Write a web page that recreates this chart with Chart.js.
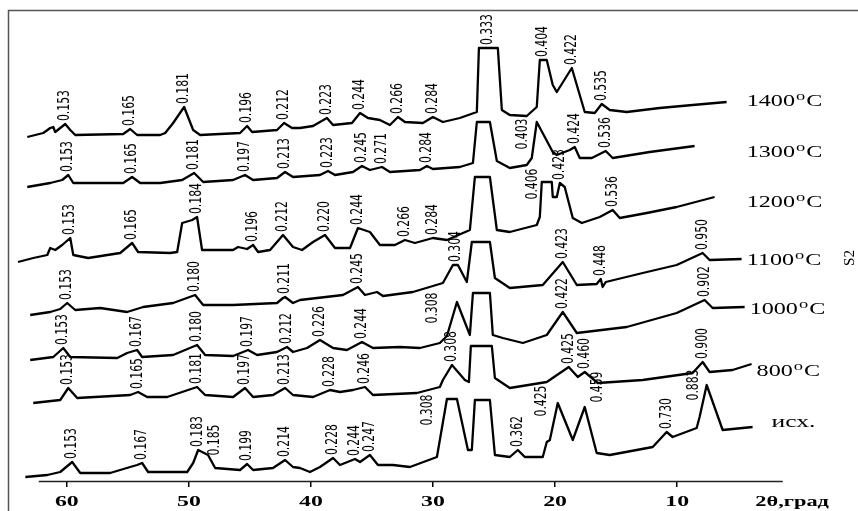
<!DOCTYPE html>
<html>
<head>
<meta charset="utf-8">
<script src="https://cdn.jsdelivr.net/npm/chart.js@4.4.1/dist/chart.umd.min.js"></script>
<style>
  html, body { margin: 0; padding: 0; background: #fff; }
  #xrd { display: block; }
</style>
</head>
<body>
<canvas id="xrd" width="858" height="511"></canvas>
<script>
// XRD patterns of the sample after firing at different temperatures.
// t*: 2θ (deg), i*: intensity above the trace baseline (arb. units)
// p*: 2θ of labelled reflections, d*: interplanar spacing labels (nm)

const t1400 = [63.24, 61.93, 61.36, 61.11, 60.95, 60.13, 59.72, 59.31, 55.38, 54.81, 54.24, 52.35, 51.94, 51.29, 50.39, 49.65, 49.08, 45.81, 45.23, 44.82, 42.78, 42.20, 41.55, 40.90, 39.83, 38.69, 38.19, 36.64, 35.98, 35.33, 34.35, 33.53, 32.87, 32.30, 30.83, 30.01, 29.19, 27.80, 26.41, 26.24, 24.69, 24.36, 23.71, 22.32, 21.50, 21.25, 20.68, 20.19, 19.86, 18.63, 17.57, 16.75, 16.18, 15.52, 14.13, 11.43, 8.73, 5.95];
const i1400 = [-2, 2, 7, 8, 3, 11, 5, 0, 1, 6, 0, 0, 2, 12, 28, 5, 0, 2, 9, 3, 5, 12, 7, 7, 9, 17, 10, 12, 22, 17, 15, 10, 18, 13, 12, 18, 13, 17, 23, 87, 87, 25, 20, 19, 28, 75, 75, 50, 43, 67, 23, 22, 31, 25, 23, 27, 30, 33];
const p1400 = [60.13, 54.81, 50.39, 45.23, 42.20, 38.69, 35.98, 32.87, 30.01, 25.47, 20.97, 18.63, 16.18];
const d1400 = ['0.153', '0.165', '0.181', '0.196', '0.212', '0.223', '0.244', '0.266', '0.284', '0.333', '0.404', '0.422', '0.535'];

const t1300 = [63.24, 61.36, 60.38, 59.88, 59.47, 55.38, 54.65, 53.99, 52.35, 50.55, 49.57, 48.83, 46.38, 45.40, 44.74, 42.78, 42.12, 41.47, 39.26, 38.60, 38.03, 36.56, 35.82, 35.17, 34.18, 33.53, 31.07, 30.50, 30.01, 27.80, 26.73, 26.41, 25.34, 24.77, 23.71, 22.32, 21.91, 21.50, 20.19, 19.86, 18.80, 18.39, 17.98, 16.99, 15.85, 15.28, 12.25, 8.57];
const i1300 = [-2, 2, 5, 10, 2, 2, 8, 2, 2, 5, 12, 3, 5, 10, 5, 7, 13, 8, 10, 14, 10, 13, 19, 15, 18, 13, 15, 19, 16, 18, 22, 63, 63, 24, 17, 20, 27, 63, 33, 30, 35, 38, 27, 27, 34, 27, 33, 39];
const p1300 = [59.88, 54.65, 49.57, 45.40, 42.12, 38.60, 35.82, 34.18, 30.50, 21.50, 18.39, 15.85];
const d1300 = ['0.153', '0.165', '0.181', '0.197', '0.213', '0.223', '0.245', '0.271', '0.284', '0.403', '0.424', '0.536'];

const t1200 = [64.00, 62.75, 61.60, 61.36, 60.95, 60.38, 59.72, 59.47, 58.25, 55.63, 54.65, 54.16, 51.54, 50.96, 50.55, 49.73, 49.33, 48.92, 46.38, 45.97, 45.23, 44.74, 44.33, 43.35, 42.29, 41.47, 40.73, 39.83, 38.85, 38.03, 36.80, 36.15, 35.17, 34.35, 33.12, 32.30, 31.48, 30.01, 28.86, 26.98, 26.57, 25.34, 24.77, 23.71, 21.50, 21.25, 21.09, 20.27, 20.19, 19.86, 19.61, 19.21, 18.55, 17.81, 16.34, 15.28, 14.70, 12.49, 10.04, 6.93];
const i1200 = [-7, -3, 0, 7, 5, 10, 17, 0, -3, 2, 12, 3, 2, 3, 32, 35, 38, 5, 5, 8, 6, 10, 3, 5, 20, 8, 5, 13, 20, 7, 7, 27, 23, 10, 10, 15, 12, 17, 15, 25, 78, 78, 25, 23, 30, 38, 73, 73, 58, 58, 72, 68, 37, 32, 38, 45, 37, 42, 48, 58];
const p1200 = [59.72, 54.65, 49.33, 44.74, 42.29, 38.85, 36.15, 32.30, 30.01, 20.68, 19.61, 15.28];
const d1200 = ['0.153', '0.165', '0.184', '0.196', '0.212', '0.220', '0.244', '0.266', '0.284', '0.406', '0.423', '0.536'];

const t1100 = [63.00, 61.36, 60.54, 59.97, 59.31, 57.27, 55.06, 53.75, 51.29, 49.49, 48.83, 46.38, 42.78, 42.29, 42.12, 41.47, 40.90, 37.38, 36.15, 35.57, 34.59, 34.10, 31.65, 29.19, 28.37, 27.96, 27.23, 26.82, 25.34, 24.93, 23.71, 21.01, 19.37, 18.22, 16.59, 16.26, 16.10, 15.85, 12.82, 10.04, 7.91, 7.34, 4.72];
const i1100 = [-3, 0, 3, 9, 2, 4, 0, 5, 9, 17, 7, 7, 9, 14, 15, 9, 12, 17, 25, 17, 20, 16, 20, 29, 47, 47, 30, 70, 70, 34, 24, 27, 50, 27, 28, 33, 25, 30, 39, 47, 59, 52, 53];
const p1100 = [59.97, 49.49, 42.12, 36.15, 28.16, 19.37, 16.26, 7.91];
const d1100 = ['0.153', '0.180', '0.211', '0.245', '0.304', '0.423', '0.448', '0.950'];

const t1000 = [63.00, 61.11, 60.29, 59.72, 55.87, 55.06, 54.24, 53.83, 51.29, 49.33, 48.67, 46.38, 45.15, 44.41, 42.78, 41.96, 41.47, 40.32, 39.26, 38.19, 37.05, 35.82, 34.92, 32.71, 31.07, 29.44, 28.86, 28.04, 26.98, 26.73, 25.34, 25.10, 24.28, 22.64, 20.68, 19.37, 18.22, 14.13, 10.04, 7.75, 7.09, 4.47];
const i1000 = [-2, 1, 10, 1, 0, 5, 8, 1, 3, 13, 3, 2, 8, 3, 6, 11, 6, 10, 18, 10, 8, 16, 10, 11, 10, 15, 22, 56, 23, 65, 65, 23, 20, 15, 23, 46, 25, 31, 45, 58, 50, 51];
const p1000 = [60.29, 54.24, 49.33, 45.15, 41.96, 39.26, 35.82, 28.04, 19.37, 7.75];
const d1000 = ['0.153', '0.167', '0.180', '0.197', '0.212', '0.226', '0.244', '0.308', '0.422', '0.902'];

const t800 = [62.75, 60.54, 59.88, 59.15, 54.81, 54.16, 53.42, 51.78, 49.33, 48.67, 46.38, 45.40, 44.74, 43.11, 42.12, 41.47, 39.83, 38.44, 37.62, 36.56, 35.57, 34.92, 31.32, 29.44, 29.19, 28.45, 27.39, 27.06, 26.90, 25.18, 24.93, 23.71, 20.68, 18.88, 18.14, 17.57, 16.50, 12.82, 8.73, 7.91, 7.34, 5.46, 3.90];
const i800 = [-3, 0, 12, 2, 5, 8, 3, 3, 13, 5, 3, 12, 3, 5, 12, 5, 3, 10, 8, 10, 13, 5, 7, 13, 20, 35, 20, 18, 54, 54, 22, 12, 18, 33, 23, 28, 17, 20, 27, 38, 28, 30, 36];
const p800 = [59.88, 54.16, 49.33, 45.40, 42.12, 38.44, 35.57, 28.45, 18.88, 17.57, 7.91];
const d800 = ['0.153', '0.165', '0.181', '0.197', '0.213', '0.228', '0.246', '0.308', '0.425', '0.460', '0.900'];

// initial (unfired) material
const t0 = [63.40, 61.60, 60.54, 59.56, 58.90, 56.45, 54.81, 54.24, 53.83, 53.34, 50.14, 49.65, 49.24, 48.43, 47.85, 45.81, 45.23, 44.74, 43.11, 42.12, 41.47, 40.90, 40.08, 39.26, 38.19, 37.62, 36.39, 35.98, 35.17, 34.51, 33.28, 31.89, 29.68, 28.86, 28.04, 27.14, 26.82, 26.57, 25.34, 24.93, 23.71, 23.05, 22.48, 21.01, 20.68, 20.43, 19.78, 18.55, 17.57, 16.59, 15.52, 12.00, 10.86, 10.37, 8.40, 8.16, 7.58, 6.27, 3.82];
const i0 = [-2, 0, 3, 13, 2, 2, 8, 10, 12, 3, 3, 12, 25, 20, 7, 5, 11, 5, 7, 15, 8, 7, 3, 8, 17, 10, 16, 13, 20, 10, 10, 8, 18, 76, 76, 25, 25, 75, 75, 20, 18, 25, 18, 18, 33, 35, 72, 35, 68, 22, 20, 28, 43, 38, 47, 58, 90, 45, 48];
const p0 = [59.56, 53.83, 49.24, 48.43, 45.23, 42.12, 38.19, 36.39, 35.17, 28.45, 23.05, 19.78, 17.57, 10.86, 7.58];
const d0 = ['0.153', '0.167', '0.183', '0.185', '0.199', '0.214', '0.228', '0.244', '0.247', '0.308', '0.362', '0.425', '0.459', '0.730', '0.883'];

const tempLabels = ['1400°C', '1300°C', '1200°C', '1100°C', '1000°C', '800°C', 'исх.'];
const offsets = [346, 296, 226, 169, 123, 81, 6];   // vertical stacking of the patterns
const tickValues = [60, 50, 40, 30, 20, 10];

const traces = [
  { t: t1400, v: i1400, p: p1400, d: d1400 },
  { t: t1300, v: i1300, p: p1300, d: d1300 },
  { t: t1200, v: i1200, p: p1200, d: d1200 },
  { t: t1100, v: i1100, p: p1100, d: d1100 },
  { t: t1000, v: i1000, p: p1000, d: d1000 },
  { t: t800, v: i800, p: p800, d: d800 },
  { t: t0, v: i0, p: p0, d: d0 },
];

// labels written beside a peak instead of on top: [dx, dy of text centre from peak]
const sideLabels = {
  '1:0.403': [-14, 12],
  '2:0.406': [-14, 2],
  '4:0.308': [-24, 6],
  '6:0.308': [-24, 11],
  '6:0.425': [-16, -2],
  '6:0.883': [-13, 0],
  '6:0.459': [13, -20],
  '6:0.185': [7, -15],
};
// nudges for the temperature captions at the right end of the traces
const tempDx = [0, 0, 0, 0, 0, 0, 14];
const tempDy = [0, 7, 6, 2, 3, 8, -4];

const PEAK_FONT = '12px "Liberation Sans Narrow", "Arial Narrow", "DejaVu Sans Condensed", sans-serif';
const SERIF = '"Liberation Serif", "Times New Roman", serif';

// intensity of a trace at an arbitrary 2θ (linear between points)
function valueAt(t, v, x) {
  for (let i = 0; i < t.length - 1; i++) {
    if (t[i] >= x && x >= t[i + 1]) {
      const f = (t[i] - x) / (t[i] - t[i + 1]);
      return v[i] + f * (v[i + 1] - v[i]);
    }
  }
  return v[v.length - 1];
}

// horizontally stretched text, like the scanned serif captions
function wideText(ctx, text, x, y, font, sx, align) {
  ctx.save();
  ctx.font = font;
  const w = ctx.measureText(text).width * sx;
  const left = align === 'center' ? x - w / 2 : (align === 'right' ? x - w : x);
  ctx.translate(left, y);
  ctx.scale(sx, 1);
  ctx.textAlign = 'left';
  ctx.textBaseline = 'middle';
  ctx.fillText(text, 0, 0);
  ctx.restore();
  return w;
}

const framePlugin = {
  id: 'frame',
  beforeDraw(chart) {
    const ctx = chart.ctx;
    ctx.save();
    ctx.fillStyle = '#fff';
    ctx.fillRect(0, 0, chart.width, chart.height);
    ctx.strokeStyle = '#555';
    ctx.lineWidth = 1.5;
    ctx.beginPath();
    ctx.moveTo(8.5, chart.height);
    ctx.lineTo(8.5, 10.5);
    ctx.lineTo(chart.width, 10.5);
    ctx.stroke();
    ctx.restore();
  },
};

const peakLabelPlugin = {
  id: 'peakLabels',
  afterDatasetsDraw(chart) {
    const { ctx, scales: { x, y } } = chart;
    ctx.save();
    ctx.fillStyle = '#000';
    ctx.font = PEAK_FONT;
    traces.forEach((tr, k) => {
      tr.p.forEach((pos, j) => {
        const text = tr.d[j];
        const px = x.getPixelForValue(pos);
        const py = y.getPixelForValue(offsets[k] + valueAt(tr.t, tr.v, pos));
        const len = ctx.measureText(text).width;
        let cx = px, cy = py - 3 - len / 2;
        const side = sideLabels[k + ':' + text];
        if (side) { cx = px + side[0]; cy = py + side[1]; }
        ctx.save();
        ctx.translate(cx, cy);
        ctx.rotate(-Math.PI / 2);
        ctx.scale(1, 1.3);
        ctx.textAlign = 'center';
        ctx.textBaseline = 'middle';
        ctx.fillText(text, 0, 0);
        ctx.restore();
      });
    });
    ctx.restore();
  },
};

const axisPlugin = {
  id: 'axisDecor',
  afterDraw(chart) {
    const { ctx, chartArea, scales: { x, y } } = chart;
    const base = chartArea.bottom;
    ctx.save();
    ctx.fillStyle = '#000';

    // axis line (shorter than the plot span)
    ctx.strokeStyle = '#222';
    ctx.lineWidth = 1.5;
    ctx.beginPath();
    ctx.moveTo(x.getPixelForValue(62.3), base + 0.5);
    ctx.lineTo(x.getPixelForValue(1.35), base + 0.5);
    ctx.stroke();

    // tick numbers
    x.ticks.forEach(tk => {
      wideText(ctx, String(tk.value), x.getPixelForValue(tk.value), base + 21, 'bold 14px ' + SERIF, 1.7, 'center');
    });
    wideText(ctx, '2θ,град', x.getPixelForValue(3.6), base + 21, 'bold 14px ' + SERIF, 1.6, 'left');

    // temperature captions at the right end of each pattern
    const column = x.getPixelForValue(4.3);
    traces.forEach((tr, k) => {
      const n = tr.t.length - 1;
      const ex = x.getPixelForValue(tr.t[n]);
      const ey = y.getPixelForValue(offsets[k] + tr.v[n]);
      let cx = Math.max(column, ex + 5) + tempDx[k];
      const cy = ey + tempDy[k];
      const lbl = tempLabels[k];
      if (lbl.indexOf('°') > 0) {
        const parts = lbl.split('°');
        cx += wideText(ctx, parts[0], cx, cy, '17px ' + SERIF, 1.42, 'left') + 1;
        cx += wideText(ctx, 'o', cx, cy - 5, '13px ' + SERIF, 1.42, 'left') + 1;
        wideText(ctx, parts[1], cx, cy, '17px ' + SERIF, 1.42, 'left');
      } else {
        wideText(ctx, lbl, cx, cy, '16px ' + SERIF, 1.6, 'left');
      }
    });

    // rotated mark next to the 1100 °C caption
    ctx.save();
    ctx.translate(chart.width - 8, y.getPixelForValue(offsets[3] + i1100[i1100.length - 1]) - 1);
    ctx.rotate(-Math.PI / 2);
    ctx.font = '15px ' + SERIF;
    ctx.textAlign = 'center';
    ctx.textBaseline = 'middle';
    ctx.fillText('S2', 0, 0);
    ctx.restore();

    ctx.restore();
  },
};

const datasets = traces.map((tr, k) => ({
  label: tempLabels[k],
  data: tr.t.map((t, j) => ({ x: t, y: offsets[k] + tr.v[j] })),
  borderColor: '#000',
  borderWidth: 2.3,
  pointRadius: 0,
  tension: 0,
  fill: false,
  clip: false,
  borderJoinStyle: 'round',
}));

new Chart(document.getElementById('xrd'), {
  type: 'line',
  data: { datasets },
  options: {
    responsive: false,
    animation: false,
    devicePixelRatio: 1,
    layout: { padding: { left: 18, right: 71, top: 0, bottom: 0 } },
    plugins: { legend: { display: false }, tooltip: { enabled: false } },
    scales: {
      x: {
        type: 'linear',
        reverse: true,
        min: 1,
        max: 64,
        afterBuildTicks: s => { s.ticks = tickValues.map(v => ({ value: v })); },
        afterFit: s => { s.height = 30; },
        ticks: { display: false },
        border: { display: false },
        grid: { drawOnChartArea: false, drawTicks: true, tickLength: 6, color: '#000', lineWidth: 1.5 },
      },
      y: { type: 'linear', min: 0, max: 481, display: false },
    },
  },
  plugins: [framePlugin, peakLabelPlugin, axisPlugin],
});
</script>
</body>
</html>
